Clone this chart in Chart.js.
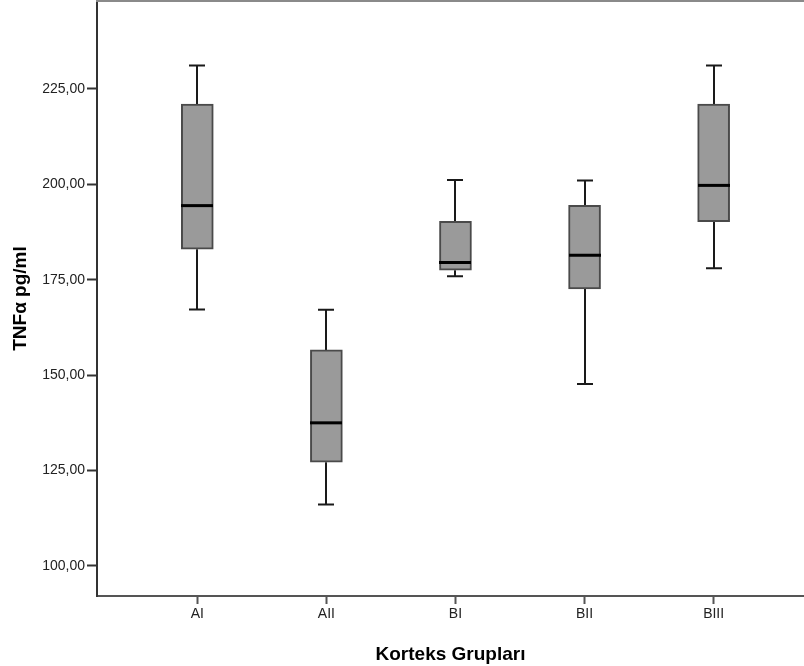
<!DOCTYPE html>
<html>
<head>
<meta charset="utf-8">
<script src="https://cdn.jsdelivr.net/npm/chart.js@4.4.1/dist/chart.umd.min.js"></script>
<style>
  html, body { margin: 0; padding: 0; background: #ffffff; }
  #wrap { width: 804px; height: 666px; }
</style>
</head>
<body>
<div id="wrap"><canvas id="c" width="804" height="666"></canvas></div>
<script>
// ---- Data ----
const categories = ['AI', 'AII', 'BI', 'BII', 'BIII'];
const whiskerMin = [167.2, 116.1, 175.9, 147.7, 178.0];
const q1         = [183.0, 127.2, 177.5, 172.6, 190.2];
const median     = [194.4, 137.5, 179.5, 181.4, 199.7];
const q3         = [221.0, 156.6, 190.3, 194.5, 221.0];
const whiskerMax = [231.1, 167.1, 201.1, 201.0, 231.1];
const yTicks     = [100, 125, 150, 175, 200, 225];
const xTitle = 'Korteks Grupları';
const yTitle = 'TNFα pg/ml';

const FONT = '"Liberation Sans", Arial, sans-serif';

const boxData = categories.map((c, i) => ({ x: i + 1, y: [q1[i], q3[i]] }));

const boxParts = {
  id: 'boxParts',
  beforeDatasetsDraw(chart) {
    const { ctx, scales: { x, y } } = chart;
    ctx.save();
    ctx.strokeStyle = '#1a1a1a';
    ctx.lineWidth = 2;
    const cap = 8;
    categories.forEach((c, i) => {
      const px = Math.round(x.getPixelForValue(i + 1));
      const yTop = y.getPixelForValue(whiskerMax[i]);
      const yQ3 = y.getPixelForValue(q3[i]);
      const yQ1 = y.getPixelForValue(q1[i]);
      const yBot = y.getPixelForValue(whiskerMin[i]);
      ctx.beginPath();
      ctx.moveTo(px, yTop); ctx.lineTo(px, yQ3);
      ctx.moveTo(px, yQ1); ctx.lineTo(px, yBot);
      ctx.moveTo(px - cap, yTop); ctx.lineTo(px + cap, yTop);
      ctx.moveTo(px - cap, yBot); ctx.lineTo(px + cap, yBot);
      ctx.stroke();
    });
    ctx.restore();
  },
  afterDatasetsDraw(chart) {
    const { ctx, scales: { x, y } } = chart;
    ctx.save();
    ctx.strokeStyle = '#000000';
    ctx.lineWidth = 3;
    const half = 16;
    categories.forEach((c, i) => {
      const px = Math.round(x.getPixelForValue(i + 1));
      const ym = y.getPixelForValue(median[i]);
      ctx.beginPath();
      ctx.moveTo(px - half, ym); ctx.lineTo(px + half, ym);
      ctx.stroke();
    });
    ctx.restore();
  },
  afterDraw(chart) {
    const { ctx, chartArea } = chart;
    ctx.save();
    ctx.strokeStyle = '#8a8a8a';
    ctx.lineWidth = 2;
    ctx.beginPath();
    ctx.moveTo(chartArea.left - 1, chartArea.top);
    ctx.lineTo(chartArea.right, chartArea.top);
    ctx.stroke();
    ctx.restore();
  }
};

new Chart(document.getElementById('c'), {
  type: 'bar',
  data: {
    datasets: [{
      data: boxData,
      backgroundColor: '#9a9a9a',
      borderColor: '#4a4a4a',
      borderWidth: 2,
      borderSkipped: false,
      barThickness: 32
    }]
  },
  options: {
    responsive: false,
    animation: false,
    devicePixelRatio: 1,
    layout: { padding: { top: 1, left: 0, right: 0, bottom: 0 } },
    plugins: { legend: { display: false }, tooltip: { enabled: false } },
    scales: {
      x: {
        type: 'linear',
        offset: false,
        min: 0.223,
        max: 5.70,
        afterBuildTicks(axis) { axis.ticks = categories.map((c, i) => ({ value: i + 1 })); },
        afterFit(scale) { scale.height = 70; scale.paddingLeft = 0; scale.paddingRight = 0; },
        ticks: {
          autoSkip: false,
          maxRotation: 0,
          padding: 2,
          color: '#222',
          font: { family: FONT, size: 14 },
          callback: (v) => categories[Math.round(v) - 1] || ''
        },
        grid: { offset: false, drawOnChartArea: false, drawTicks: true, tickLength: 8, color: '#555', tickWidth: 2 },
        border: { display: true, color: '#555', width: 2 },
        title: {
          display: true, text: xTitle, color: '#000',
          font: { family: FONT, size: 19, weight: 'bold', lineHeight: 1.2 },
          padding: { top: 0, bottom: 0 }
        }
      },
      y: {
        type: 'linear',
        min: 92.14,
        max: 248,
        afterBuildTicks(axis) { axis.ticks = yTicks.map(v => ({ value: v })); },
        afterFit(scale) { scale.width = 97; scale.paddingTop = 0; scale.paddingBottom = 0; },
        ticks: {
          padding: 2,
          color: '#222',
          font: { family: FONT, size: 14 },
          callback: (v) => Number(v).toFixed(2).replace('.', ',')
        },
        grid: { drawOnChartArea: false, drawTicks: true, tickLength: 10, color: '#333', tickWidth: 2 },
        border: { display: true, color: '#333', width: 2 },
        title: {
          display: true, text: yTitle, color: '#000',
          font: { family: FONT, size: 19, weight: 'bold', lineHeight: 1.2 },
          padding: { top: 9, bottom: 0 }
        }
      }
    }
  },
  plugins: [boxParts]
});
</script>
</body>
</html>
